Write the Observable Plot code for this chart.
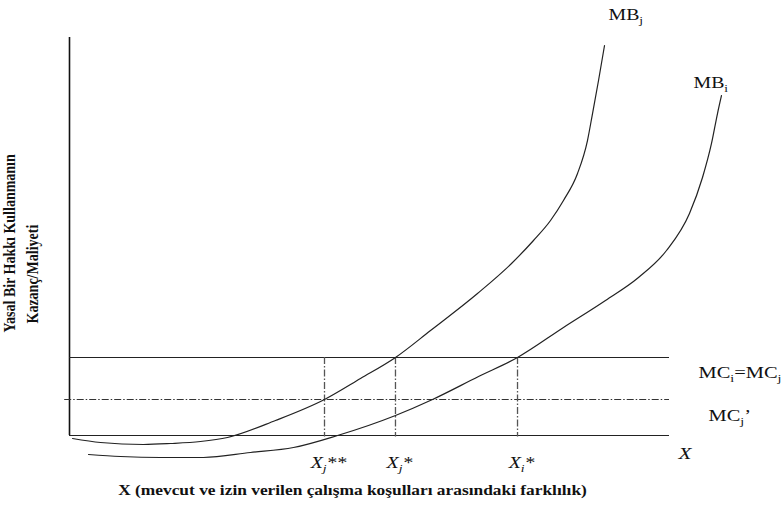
<!DOCTYPE html>
<html>
<head>
<meta charset="utf-8">
<script src="https://cdn.jsdelivr.net/npm/d3@7"></script>
<script src="https://cdn.jsdelivr.net/npm/@observablehq/plot@0.6"></script>
<style>
  html, body { margin: 0; padding: 0; background: #fff; }
  #chart svg { display: block; }
</style>
</head>
<body>
<div id="chart"></div>
<script>
// ---- data ----
const mbJx = [0.5, 5.17, 12.33, 16.83, 21.83, 26.33, 34.33, 42.5, 48.5, 54.33, 60.17, 68, 73.67, 77.33, 80.17, 82.33, 84.67, 86.33, 87.17, 88.17, 89.17];
const mbJy = [-0.75, -1.76, -2.26, -2.01, -1.51, -0.5, 3.77, 9.05, 14.32, 19.6, 26.38, 35.68, 43.22, 49, 54.02, 59.05, 65.83, 74.12, 80.9, 89.2, 97.99];
const mbIx = [3.17, 8.5, 15.17, 22.33, 30.17, 37.33, 44.67, 54.33, 60.5, 68.17, 74.67, 82.33, 89.33, 94.83, 99.5, 103.33, 105.5, 107, 108, 108.67];
const mbIy = [-4.77, -5.28, -5.53, -5.53, -4.27, -3.02, 0, 5.03, 9.05, 14.82, 19.6, 27.14, 33.92, 39.7, 46.48, 55.78, 64.82, 73.37, 80.9, 85.43];
const mcLevel = 19.6;        // MC_i = MC_j
const mcPrimeLevel = 9.05;   // MC_j'
const eqNames = ["X{j}**", "X{j}*", "X{i}*"];
const eqValues = [42.5, 54.33, 74.67];
const curveNames = ["MB{j}", "MB{i}"];
const yTitleLines = ["Yasal Bir Hakkı Kullanmanın", "Kazanç/Maliyeti"];
const xTitle = "X (mevcut ve izin verilen çalışma koşulları arasındaki farklılık)";
const xAxisName = "X";
const mcNames = ["MC{i}=MC{j}", "MC{j}’"];

// ---- derived tables ----
const mbJ = mbJx.map((x, i) => ({x, y: mbJy[i]}));
const mbI = mbIx.map((x, i) => ({x, y: mbIy[i]}));
const eqs = eqNames.map((name, i) => ({name, x: eqValues[i], top: mcLevel}));

const serif = "'Liberation Serif', 'DejaVu Serif', serif";
const dashDot = "7,2,1.5,2";

const chart = Plot.plot({
  width: 784,
  height: 514,
  marginLeft: 69,
  marginRight: 115,
  marginTop: 37,
  marginBottom: 79,
  x: {domain: [0, 100], axis: null},
  y: {domain: [0, 100], axis: null},
  style: {fontFamily: serif, background: "#fff", overflow: "visible"},
  marks: [
    // y axis line
    Plot.ruleX([0], {y1: 0, y2: 100, stroke: "#111", strokeWidth: 1.6}),
    // baseline and MC line
    Plot.ruleY([0, mcLevel], {x1: 0, x2: 100, stroke: "#222", strokeWidth: 1.2}),
    // MC_j' dash-dot line
    Plot.ruleY([mcPrimeLevel], {x1: -0.8, x2: 100, stroke: "#333", strokeWidth: 1.1, strokeDasharray: dashDot}),
    // vertical dash-dot lines at equilibria
    Plot.ruleX(eqs, {x: "x", y1: "top", y2: -0.4, stroke: "#555", strokeWidth: 1.3, strokeDasharray: dashDot}),
    // MB curves
    Plot.line(mbJ, {x: "x", y: "y", curve: "monotone-x", stroke: "#222", strokeWidth: 1.2}),
    Plot.line(mbI, {x: "x", y: "y", curve: "monotone-x", stroke: "#222", strokeWidth: 1.2}),
    // curve labels at curve ends
    Plot.text([mbJ[mbJ.length - 1]], {x: "x", y: "y", text: () => curveNames[0], textAnchor: "start", dx: 4, dy: -31, fontSize: 16, fill: "#111", className: "sublabel"}),
    Plot.text([mbI[mbI.length - 1]], {x: "x", y: "y", text: () => curveNames[1], textAnchor: "start", dx: -28, dy: -13, fontSize: 16, fill: "#111", className: "sublabel"}),
    // MC labels
    Plot.text([mcLevel], {y: d => d, frameAnchor: "right", text: () => mcNames[0], textAnchor: "start", dx: 29, dy: 15, fontSize: 16.5, fill: "#111", className: "sublabel"}),
    Plot.text([mcPrimeLevel], {y: d => d, frameAnchor: "right", text: () => mcNames[1], textAnchor: "start", dx: 39, dy: 16, fontSize: 16.5, fill: "#111", className: "sublabel"}),
    // equilibrium tick labels
    Plot.text(eqs, {x: "x", y: 0, text: "name", textAnchor: "middle", dx: 4, dy: 27, fontSize: 16, fontStyle: "italic", fill: "#111", className: "sublabel"}),
    // X at end of axis
    Plot.text([xAxisName], {frameAnchor: "bottom-right", text: d => d, textAnchor: "start", dx: 9, dy: 23, fontSize: 17, fontStyle: "italic", fill: "#111", className: "wide"}),
    // axis titles
    Plot.text([xTitle], {frameAnchor: "bottom", text: d => d, textAnchor: "middle", dx: -17, dy: 59, fontSize: 14, fontWeight: "bold", fill: "#111", className: "wide"}),
    Plot.text([yTitleLines[0]], {frameAnchor: "bottom-left", text: d => d, rotate: -90, textAnchor: "start", dx: -55, dy: -103, fontSize: 14, fontWeight: "bold", fill: "#111", className: "ytitle"}),
    Plot.text([yTitleLines[1]], {frameAnchor: "bottom-left", text: d => d, rotate: -90, textAnchor: "start", dx: -32, dy: -112, fontSize: 14, fontWeight: "bold", fill: "#111", className: "ytitle"})
  ]
});

// convert {sub} markup into real subscript tspans
d3.select(chart).selectAll("g.sublabel text").each(function () {
  const el = d3.select(this);
  const raw = el.text();
  const parts = raw.split(/\{([^}]*)\}/);
  if (parts.length < 2) return;
  el.text(null);
  let lowered = false;
  parts.forEach((p, i) => {
    if (p === "" && i % 2 === 0) return;
    const ts = el.append("tspan").text(p);
    if (i % 2 === 1) {
      ts.attr("font-size", "0.68em").attr("dy", lowered ? null : 4);
      lowered = true;
    } else if (lowered) {
      ts.attr("dy", -4);
      lowered = false;
    }
  });
});

document.getElementById("chart").appendChild(chart);

// the reference's texts are set wider (horizontally) than the serif face: stretch them
const stretch = 1.24;
d3.select(chart).selectAll("g.sublabel text, g.wide text").each(function () {
  const len = this.getComputedTextLength();
  if (len > 0) {
    this.setAttribute("textLength", (len * stretch).toFixed(1));
    this.setAttribute("lengthAdjust", "spacingAndGlyphs");
  }
});
// rotated titles: the same horizontal stretch thickens their glyphs but keeps their length
d3.select(chart).selectAll("g.ytitle text").each(function () {
  const len = this.getComputedTextLength();
  if (len > 0) {
    this.setAttribute("font-size", (14 * stretch).toFixed(2));
    this.style.fontSize = (14 * stretch).toFixed(2) + "px";
    this.setAttribute("textLength", len.toFixed(1));
    this.setAttribute("lengthAdjust", "spacingAndGlyphs");
  }
});
</script>
</body>
</html>
